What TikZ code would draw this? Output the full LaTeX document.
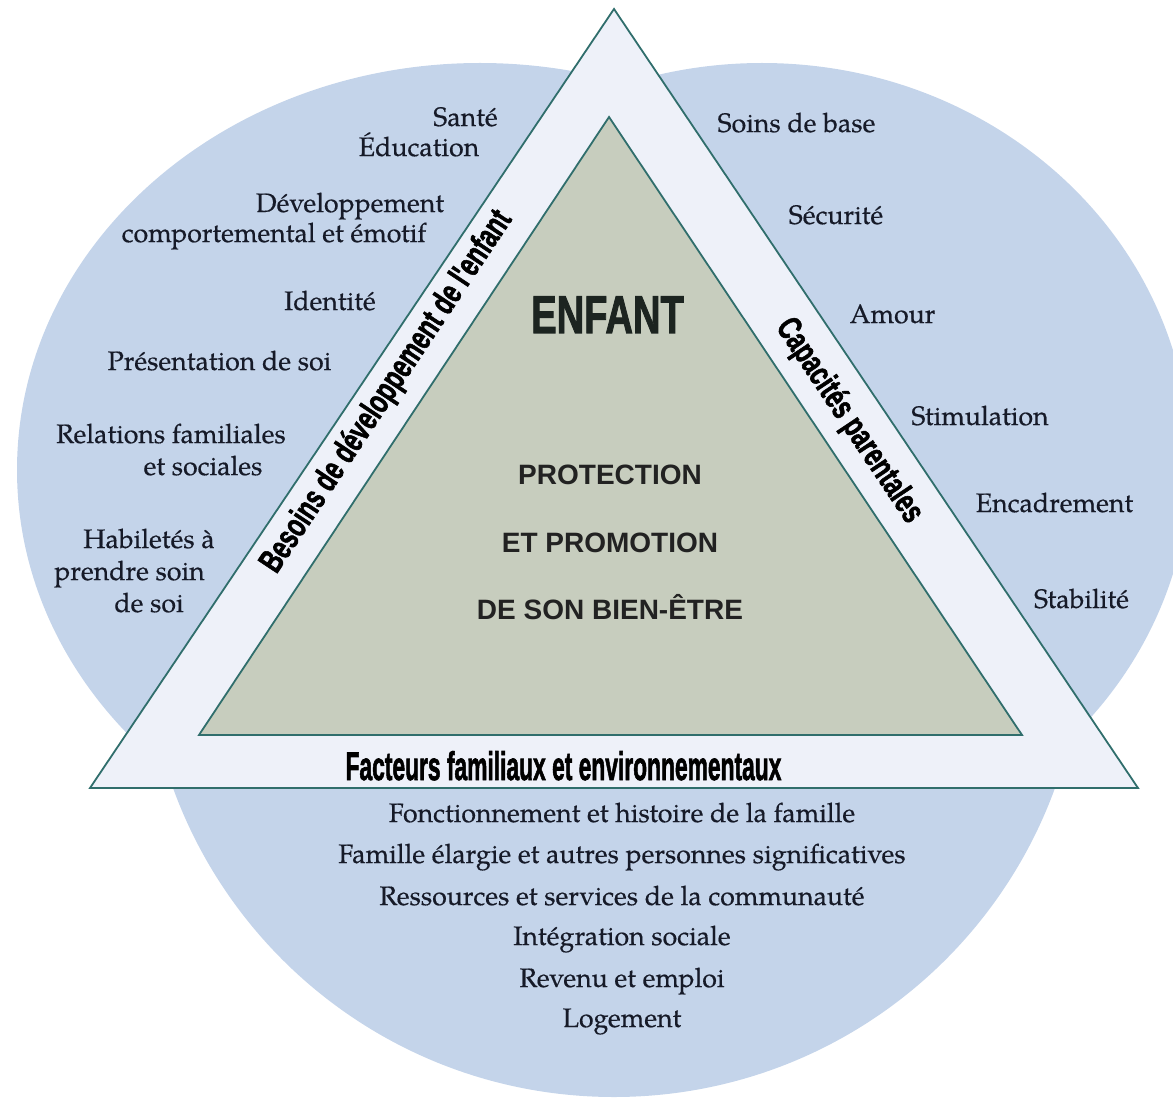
\documentclass[tikz,border=0pt]{standalone}
\usepackage{fontspec}
\usepackage{graphicx}
\newfontfamily\listfont{texgyrepagella-regular.otf}[FakeBold=0.4]
\newfontface\heavyface{Liberation Sans Bold}[FakeBold=2]
\newfontface\boldsans{Liberation Sans Bold}

\definecolor{blobblue}{HTML}{C4D4EA}
\definecolor{bandfill}{HTML}{EEF1F9}
\definecolor{corefill}{HTML}{C7CDBE}
\definecolor{edgeteal}{HTML}{306E6C}
\definecolor{itemink}{HTML}{161A28}
\definecolor{coreink}{HTML}{222222}
\definecolor{titleink}{HTML}{1C2420}

\tikzset{
  blob/.style={fill=blobblue, draw=none},
  band/.style={fill=bandfill, draw=edgeteal, line width=1.8pt, line join=miter},
  core/.style={fill=corefill, draw=edgeteal, line width=1.8pt, line join=miter},
  item/.style={anchor=base, inner sep=0pt, text=itemink,
    font=\listfont\fontsize{26.7}{30}\selectfont},
  bandlabel/.style={inner sep=0pt, text=black,
    font=\heavyface\fontsize{34}{36}\selectfont},
  corelabel/.style={anchor=base, inner sep=0pt, text=coreink,
    font=\boldsans\fontsize{28}{30}\selectfont},
}

\begin{document}
\begin{tikzpicture}[x=1pt, y=-1pt]
\useasboundingbox (0,0) rectangle (1173,1099);

% three overlapping blue regions behind the triangle
\fill[blob] (480,470) ellipse[x radius=463, y radius=407];
\fill[blob] (762,462) ellipse[x radius=428, y radius=399];
\fill[blob] (614,628) circle[radius=469];

% outer band and inner core
\coordinate (oA) at (614,9);
\coordinate (oL) at (90,788);
\coordinate (oR) at (1138,788);
\coordinate (iA) at (609,117);
\coordinate (iL) at (199,735);
\coordinate (iR) at (1022,735);
\draw[band] (oA) -- (oL) -- (oR) -- cycle;
\draw[core] (iA) -- (iL) -- (iR) -- cycle;

% centre
\node[inner sep=0pt, anchor=base, text=titleink,
  font=\heavyface\fontsize{53}{56}\selectfont] (enfant) at (607.5,333)
  {\scalebox{0.72}[1]{ENFANT}};
\node[corelabel] (prot1) at (610,484) {PROTECTION};
\node[corelabel] (prot2) at (610,552) {ET PROMOTION};
\node[corelabel] (prot3) at (610,619) {DE SON BIEN-ÊTRE};

% labels along the band
\node[bandlabel, rotate=56.4] (besoins) at (387,392)
  {\scalebox{0.69}[1]{Besoins de développement de l'enfant}};
\node[bandlabel, rotate=-56.2] (capacites) at (849,421)
  {\scalebox{0.7}[1]{Capacités parentales}};
\node[bandlabel, anchor=base, font=\heavyface\fontsize{40}{42}\selectfont]
  (facteurs) at (563.5,780)
  {\scalebox{0.57}[1]{Facteurs familiaux et environnementaux}};

% needs of the child
\node[item] (sante) at (465.5,126) {Santé};
\node[item] (educ) at (419,156) {Éducation};
\node[item] (dev1) at (350,212) {Développement};
\node[item] (dev2) at (274,242) {comportemental et émotif};
\node[item] (ident) at (330,310) {Identité};
\node[item] (pres) at (219.5,370) {Présentation de soi};
\node[item] (rel1) at (171,443) {Relations familiales};
\node[item] (rel2) at (203,475) {et sociales};
\node[item] (hab1) at (149,548) {Habiletés à};
\node[item] (hab2) at (129.5,580) {prendre soin};
\node[item] (hab3) at (149,612) {de soi};

% parenting capacity
\node[item] (soins) at (796.5,132) {Soins de base};
\node[item] (secu) at (836,224) {Sécurité};
\node[item] (amour) at (892.5,323) {Amour};
\node[item] (stim) at (980,425) {Stimulation};
\node[item] (encad) at (1054.5,512) {Encadrement};
\node[item] (stab) at (1081.5,608) {Stabilité};

% family and environmental factors
\node[item] (fonc) at (622,822) {Fonctionnement et histoire de la famille};
\node[item] (fam) at (622,863) {Famille élargie et autres personnes significatives};
\node[item] (ress) at (622,905) {Ressources et services de la communauté};
\node[item] (integ) at (622,945) {Intégration sociale};
\node[item] (rev) at (622,987) {Revenu et emploi};
\node[item] (loge) at (622,1027) {Logement};
\end{tikzpicture}
\end{document}
